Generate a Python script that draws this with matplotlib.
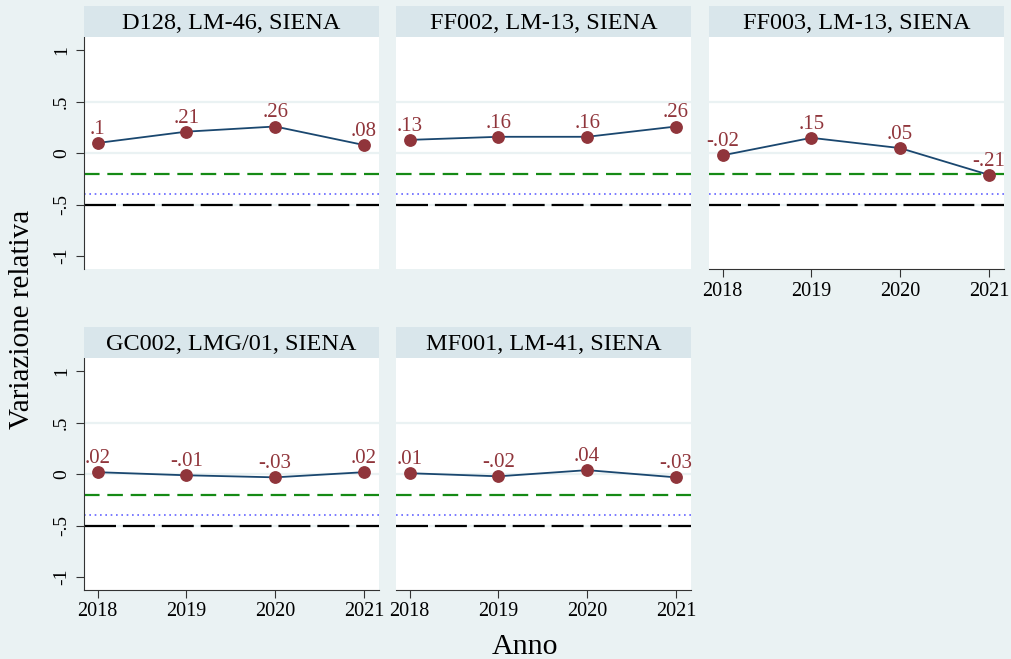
import matplotlib
matplotlib.use("Agg")
import matplotlib.pyplot as plt

plt.rcParams['font.family'] = ['Liberation Serif', 'DejaVu Serif']

years = [2018, 2019, 2020, 2021]
titles = ["D128, LM-46, SIENA", "FF002, LM-13, SIENA", "FF003, LM-13, SIENA",
          "GC002, LMG/01, SIENA", "MF001, LM-41, SIENA"]
d128 = [0.10, 0.21, 0.26, 0.08]
ff002 = [0.13, 0.16, 0.16, 0.26]
ff003 = [-0.02, 0.15, 0.05, -0.21]
gc002 = [0.02, -0.01, -0.03, 0.02]
mf001 = [0.01, -0.02, 0.04, -0.03]
series = [d128, ff002, ff003, gc002, mf001]
yticks = [-1, -0.5, 0, 0.5, 1]
ytick_labels = ["-1", "-.5", "0", ".5", "1"]
grid_levels = [-0.5, 0, 0.5]
ref_green = -0.2
ref_blue = -0.4
ref_black = -0.5

BG = "#eaf2f3"
STRIP = "#d9e6eb"
NAVY = "#1a476f"
MAROON = "#90353b"

W, H = 1012, 659
fig = plt.figure(figsize=(W / 100, H / 100), dpi=100, facecolor=BG)

def frac(x0, y0, w, h):
    return [x0 / W, 1 - (y0 + h) / H, w / W, h / H]

def fmt(v):
    s = f"{v:g}"
    s = s.replace("-0.", "-.").replace("0.", ".")
    return s

col_x = [84, 396, 709]
row_top = [37, 358]
pw, ph = 295, 232
strip_h = 31

positions = [(0, 0), (0, 1), (0, 2), (1, 0), (1, 1)]

for i, (r, c) in enumerate(positions):
    x0 = col_x[c]
    y0 = row_top[r]
    ax = fig.add_axes(frac(x0, y0, pw, ph))
    ax.set_facecolor("white")
    ax.set_xlim(2017.846, 2021.17)
    ax.set_ylim(-1.125, 1.13)
    for yv in grid_levels:
        ax.axhline(yv, color=BG, lw=1.6, zorder=0.5)
    ax.axhline(ref_green, color="#158a15", lw=1.6, dashes=(7, 3.5), zorder=1)
    ax.axhline(ref_blue, color="#6464ff", lw=1.2, dashes=(1, 2.2), zorder=1)
    ax.axhline(ref_black, color="black", lw=1.6, dashes=(14.4, 3.1), zorder=1)
    vals = series[i]
    ax.plot(years, vals, color=NAVY, lw=1.3, zorder=2)
    ax.plot(years, vals, "o", color=MAROON, ms=8.2, zorder=3)
    for xv, yv in zip(years, vals):
        ax.annotate(fmt(yv), (xv, yv), xytext=(0, 6.5), textcoords="offset points",
                    ha="center", va="baseline", color=MAROON, fontsize=15, zorder=4)
    for s in ["top", "right"]:
        ax.spines[s].set_visible(False)
    ax.spines["left"].set_color("#333333")
    ax.spines["bottom"].set_color("#333333")
    show_y = (c == 0)
    show_x = (i >= 2)
    ax.set_yticks(yticks)
    if show_y:
        ax.set_yticklabels(ytick_labels, rotation=90, va="center", fontsize=14)
        ax.tick_params(axis="y", length=6, color="#333333", pad=4)
    else:
        ax.spines["left"].set_visible(False)
        ax.tick_params(axis="y", length=0, labelleft=False)
    ax.set_xticks(years)
    if show_x:
        ax.set_xticklabels([str(y) for y in years], fontsize=14.5)
        ax.tick_params(axis="x", length=6, color="#333333", pad=3)
    else:
        ax.spines["bottom"].set_visible(False)
        ax.tick_params(axis="x", length=0, labelbottom=False)

    sax = fig.add_axes(frac(x0, y0 - strip_h, pw, strip_h))
    sax.set_facecolor(STRIP)
    sax.set_xticks([])
    sax.set_yticks([])
    for s in sax.spines.values():
        s.set_visible(False)
    sax.text(0.5, 0.45, titles[i], ha="center", va="center", fontsize=17.5,
             transform=sax.transAxes)

fig.text(22 / W, 1 - 319 / H, "Variazione relativa", rotation=90, ha="center",
         va="center", fontsize=21)
fig.text(525 / W, 1 - 647 / H, "Anno", ha="center", va="center", fontsize=21.5)

fig.savefig("out.png", dpi=100, facecolor=BG)
